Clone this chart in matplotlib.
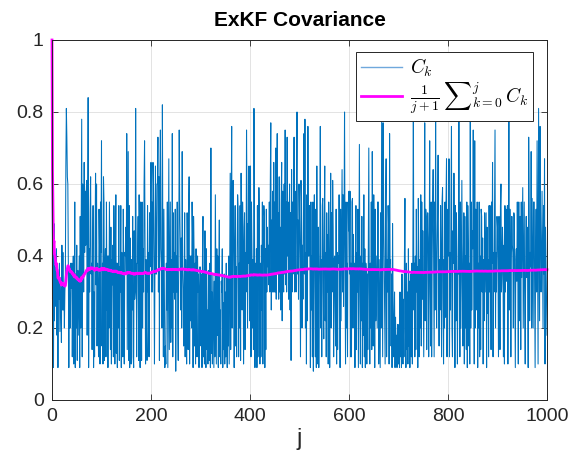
import numpy as np
import matplotlib
matplotlib.use("Agg")
import matplotlib.pyplot as plt

# C_k values (in hundredths), j = 0 .. 1000
ck_000 = [100, 28, 35, 9, 49, 22, 38, 30, 26, 42,
          18, 35, 9, 35, 28, 38, 19, 27, 34, 16,
          43, 25, 41, 25, 32, 20, 30, 35, 65, 81,
          73, 62, 60, 38, 9, 36, 20, 20, 38, 31,
          38, 12, 30, 40, 10, 22, 55, 9, 35, 20,
          43, 11, 36, 18, 30, 40, 9, 51, 20, 52,
          78, 12, 60, 54, 30, 66, 41, 58, 43, 57,
          61, 18, 42, 84, 9, 42, 30, 52, 62, 35,
          38, 14, 38, 54, 9, 30, 12, 44, 63, 32,
          60, 15, 38, 27, 12, 53, 43, 10, 55, 41]
ck_100 = [72, 15, 38, 10, 62, 55, 11, 37, 42, 12,
          55, 25, 40, 9, 40, 20, 55, 33, 14, 48,
          10, 39, 32, 43, 12, 54, 42, 10, 41, 57,
          13, 38, 9, 38, 20, 54, 11, 37, 30, 54,
          9, 41, 30, 12, 53, 24, 10, 41, 40, 48,
          35, 74, 14, 39, 69, 11, 54, 9, 45, 33,
          10, 39, 25, 51, 12, 9, 47, 28, 30, 81,
          40, 12, 38, 38, 51, 11, 57, 40, 9, 55,
          38, 11, 55, 20, 42, 30, 60, 72, 39, 10,
          39, 20, 11, 54, 30, 41, 12, 52, 37, 48]
ck_200 = [66, 30, 55, 30, 66, 60, 38, 10, 40, 65,
          35, 35, 60, 60, 73, 30, 62, 11, 62, 75, 42,
          38, 20, 82, 40, 12, 53, 32, 9, 15, 10,
          38, 25, 55, 9, 40, 67, 14, 37, 55, 16,
          39, 20, 74, 12, 52, 30, 41, 28, 53, 8,
          40, 30, 55, 22, 11, 38, 75, 55, 44, 25,
          45, 20, 69, 37, 31, 15,
          30, 52, 12, 39, 28, 10, 52, 37, 14, 51,
          62, 10, 40, 22, 40, 20, 55, 45, 9, 51,
          41, 15, 38, 10, 42, 25, 12, 40, 30, 35,
          9, 30, 37, 35]
ck_300 = [15, 35, 9, 40, 51, 12, 36, 10, 47, 14,
          9, 42, 14, 25, 10, 36, 18, 11, 38, 9,
          70, 13, 30, 10, 35, 22, 9, 33, 12, 57,
          35, 10, 42, 18, 40, 9, 33, 50, 12, 25,
          10, 33, 30, 42, 9, 27, 14, 35, 10, 30,
          12, 38, 20, 9, 34, 15,
          40, 10, 37, 63, 14, 52, 76, 20, 46, 61,
          40, 9, 38, 54, 15, 37, 12, 42, 57, 53,
          12, 38, 20, 54, 11, 63, 39, 25, 55, 48,
          10, 42, 52, 14, 41, 30, 75, 53, 20, 49,
          38, 65, 22, 60]
ck_400 = [65, 12, 55, 40, 20, 39, 14, 81, 52, 9,
          38, 20, 42, 9, 54, 12, 40, 59, 50, 10,
          38, 12, 43, 25, 55, 10, 38, 54, 51, 9,
          42, 14, 53, 30, 48, 37, 43,
          32, 55, 30, 60, 77, 25, 50, 30, 58, 30,
          66, 30, 55, 30, 70, 28, 60, 74, 35, 52,
          28, 62, 30, 48, 25, 55, 66, 22, 58, 35,
          30, 60, 35, 75, 32, 55, 30, 73, 40, 55,
          28, 48, 60, 25, 52, 11, 64, 30, 55, 35,
          45, 73, 30, 58, 40, 30, 62, 80, 35, 50,
          28, 60, 51]
ck_500 = [39, 12, 61, 55, 20, 43, 28, 55, 74, 35,
          78, 20, 41, 10, 57, 22, 76, 40, 40, 54,
          41, 9, 55, 25, 40, 12, 55, 8, 38, 57,
          38, 12, 53, 9, 65, 30, 10, 48, 9, 32,
          41, 76, 20, 39, 12, 54, 56, 30, 17, 48,
          65, 22, 41, 12, 52, 30, 46, 10, 55, 38,
          9, 40, 63, 20, 52, 30, 61, 48, 12, 39,
          40, 25, 15, 53, 10, 41, 14, 40, 38, 57,
          37, 9, 53, 22, 41, 64, 30, 57, 26, 48,
          80, 39, 10, 55, 20, 38, 12, 55, 47, 58]
ck_600 = [35, 58, 12, 38, 12, 55, 56, 20, 46, 27,
          38, 9, 38, 54, 14, 41, 30, 53, 9, 40,
          71, 30, 10, 40, 22, 51, 9, 38, 18, 57,
          12, 42, 9, 38, 35, 10, 35, 14, 40, 70,
          30, 10, 38, 20, 55, 14, 69, 37, 15, 57,
          40, 9, 53, 22, 40, 30, 20, 55, 55, 10,
          39, 25, 9, 52, 20, 80, 43, 12, 77, 53,
          38, 22, 10, 55, 67, 12, 39, 30, 54, 48,
          10, 74, 38, 39, 15, 35, 9, 49, 28, 12,
          20, 30, 9, 23, 12, 18, 9, 21, 14, 10]
ck_700 = [21, 9, 30, 12, 25, 9, 35, 15, 10, 28,
          12, 40, 56, 20, 9, 38, 14, 30, 10, 42,
          15, 33, 9, 35, 20, 12, 38, 10, 40, 84,
          25, 38, 12, 40, 14, 53, 30, 37, 9, 56,
          40, 12, 39, 20, 57, 15, 55, 28, 47, 30,
          12, 38, 77, 22, 53, 51, 14, 41, 52, 45,
          12, 38, 72, 30, 15, 55, 12, 39, 54, 64,
          38, 12, 55, 25, 80, 39, 20, 40, 52, 68,
          30, 15, 39, 25, 54, 37, 12, 55, 59, 29,
          10, 39, 20, 55, 23, 55, 67, 12, 38, 53]
ck_800 = [40, 67, 12, 41, 25, 54, 76, 20, 12, 47,
          38, 63, 39, 9, 54, 22, 52, 40, 10, 36,
          35, 80, 38, 12, 55, 20, 41, 61, 33, 15,
          39, 52, 10, 51, 20, 40, 14, 55, 9, 54,
          43, 15, 38, 10, 80, 20, 55, 25, 47, 42,
          75, 38, 10, 72, 20, 53, 48, 25, 55, 9,
          38, 20, 55, 12, 40, 14, 53, 51, 30, 45,
          10, 39, 22, 52, 30, 41, 52, 9, 48, 24,
          39, 12, 54, 30, 54, 39, 14, 55, 38, 66,
          12, 41, 30, 53, 75, 20, 41, 30, 51, 48]
ck_900 = [39, 12, 51, 43, 14, 54, 60, 30, 35, 48,
          41, 12, 43, 10, 54, 30, 53, 33, 46, 54,
          10, 41, 80, 25, 53, 42, 12, 39, 51, 43,
          41, 20, 52, 51, 30, 9, 39, 42, 33, 55,
          38, 10, 55, 22, 39, 51, 14, 55, 34, 48,
          59, 20, 39, 55, 25, 10, 40, 51, 34, 48,
          38, 9, 73, 53, 22, 41, 37, 69, 20, 56,
          38, 20, 55, 55, 30, 9, 41, 53, 30, 72,
          38, 10, 81, 51, 22, 76, 48, 30, 37, 58,
          39, 20, 54, 35, 67, 10, 48, 38, 26, 18]

x_ticks = [0, 200, 400, 600, 800, 1000]
y_ticks = [0, 0.2, 0.4, 0.6, 0.8, 1]
y_tick_labels = ["0", "0.2", "0.4", "0.6", "0.8", "1"]

segments = [ck_000, ck_100, ck_200, ck_300, ck_400,
            ck_500, ck_600, ck_700, ck_800, ck_900]
lens = [len(s) for s in segments]
assert lens == [100, 100, 101, 100, 100, 100, 100, 100, 100, 100], lens
ck = np.array(sum(segments, []), dtype=float) / 100.0
j = np.arange(len(ck))
running_mean = np.cumsum(ck) / (j + 1)

plt.rcParams['font.family'] = ['Liberation Sans', 'DejaVu Sans']
plt.rcParams['mathtext.fontset'] = 'cm'

dark = '#262626'
fig = plt.figure(figsize=(5.71, 4.70), dpi=100)
ax = fig.add_axes([52 / 571, 70 / 470, 495 / 571, 360 / 470])

ax.plot(j, ck, color='#0072BD', lw=0.75, label=r'$C_k$', clip_on=False)
ax.plot(j, running_mean, color='#FF00FF', lw=2.0, clip_on=False,
        label=r'$\frac{1}{j+1}\,{\sum}_{k=0}^{j}\,C_k$')

ax.set_xlim(0, 1000)
ax.set_ylim(0, 1)
ax.set_xticks(x_ticks)
ax.set_xticklabels([str(t) for t in x_ticks])
ax.set_yticks(y_ticks)
ax.set_yticklabels(y_tick_labels)
ax.grid(True, color=dark, alpha=0.15, lw=0.6)
ax.set_axisbelow(True)
ax.tick_params(direction='in', top=True, right=True, length=4, width=0.6,
               colors=dark, labelsize=14, pad=6)
for s in ax.spines.values():
    s.set_color(dark)
    s.set_linewidth(0.7)

ax.set_title('ExKF Covariance', fontsize=15, fontweight='bold', pad=10)
ax.set_xlabel('j', fontsize=17, color=dark, labelpad=2)

leg = ax.legend(loc='upper right', bbox_to_anchor=(0.972, 0.967),
                borderaxespad=0, fontsize=14, fancybox=False, framealpha=1,
                edgecolor=dark, handlelength=2.1, handletextpad=0.4,
                borderpad=0.25, labelspacing=0.05)
leg.get_frame().set_linewidth(0.7)
leg.get_lines()[0].set_color('#6FA8DC')
leg.get_lines()[0].set_linewidth(1.0)

fig.savefig('out.png', dpi=100)
